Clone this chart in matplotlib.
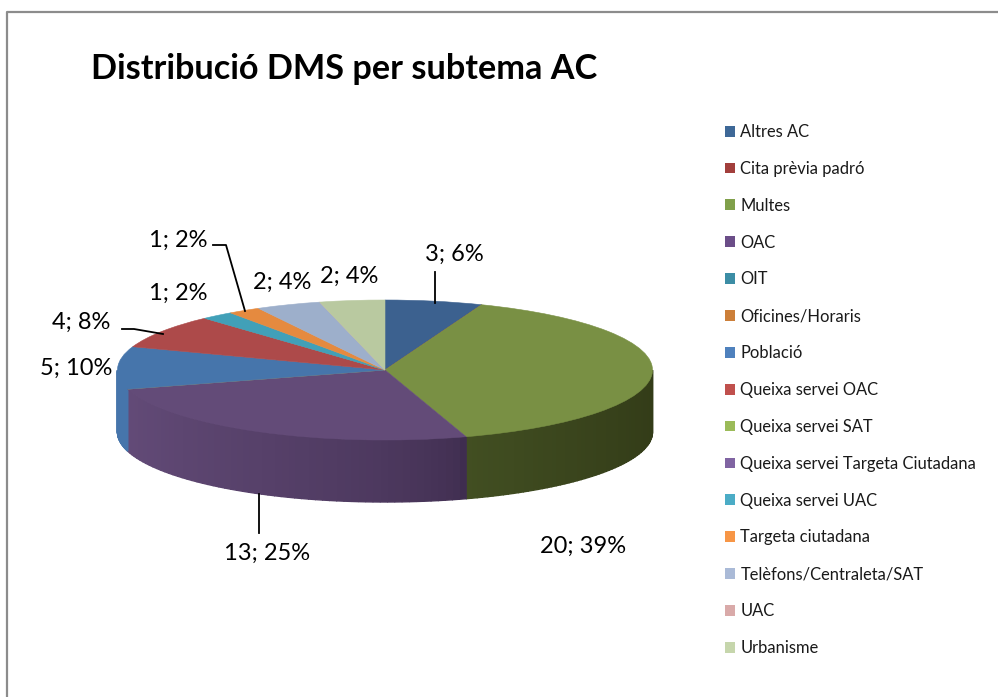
import matplotlib

matplotlib.use("Agg")
import matplotlib.pyplot as plt
import numpy as np
from matplotlib.colors import to_rgb
from matplotlib.patches import Patch

plt.rcParams["font.family"] = ["Lato", "DejaVu Sans"]

TITLE = "Distribució DMS per subtema AC"
CATEGORIES = [
    "Altres AC",
    "Cita prèvia padró",
    "Multes",
    "OAC",
    "OIT",
    "Oficines/Horaris",
    "Població",
    "Queixa servei OAC",
    "Queixa servei SAT",
    "Queixa servei Targeta Ciutadana",
    "Queixa servei UAC",
    "Targeta ciutadana",
    "Telèfons/Centraleta/SAT",
    "UAC",
    "Urbanisme",
]
VALUES = [3, 0, 20, 13, 0, 0, 5, 4, 0, 0, 1, 1, 2, 0, 2]

LEGEND_COLORS = [
    "#3e6897", "#a23f3c", "#80a04a", "#6b4d88", "#3c8da5",
    "#cc7f39", "#4f81bd", "#c0504d", "#9bbb59", "#8064a2",
    "#4bacc6", "#f79646", "#aabad7", "#d9aaa9", "#c6d6ac",
]
TOP_COLORS = [
    "#3c618f", "#a23f3c", "#799044", "#634b78", "#3c8da5",
    "#cc7f39", "#4675ab", "#ad4a4a", "#9bbb59", "#8064a2",
    "#41a0b8", "#e58a3f", "#9dafcb", "#d9aaa9", "#b9c9a0",
]
# side wall colour at the start / end of each visible slice, and shading curve
WALL_SHADES = {
    2: ("#333c18", "#424f22", 1.6),
    3: ("#3f2d4f", "#634b78", 0.6),
    6: ("#4675ab", "#4675ab", 1.0),
}
# label centres and leader lines, in image pixels
LABEL_POS = {
    0: (454, 254),
    2: (583, 546),
    3: (267, 553),
    6: (76, 368),
    7: (81, 322),
    10: (178, 293),
    11: (178, 240),
    12: (282, 282),
    14: (349, 276),
}
LEADERS = [
    [(435, 303), (435, 272)],
    [(259, 494), (259, 533)],
    [(213, 245), (226, 245), (245, 311)],
    [(122, 329), (134, 329), (163, 334)],
]

WIDTH, HEIGHT = 998, 697
CX, CY, RX, RY, DEPTH = 385, 370, 267.5, 70, 62


def wall_segment(ax, t0, t1, color):
    t = np.linspace(t0, t1, 4)
    x = np.sin(t)
    y = np.cos(t)
    drop = DEPTH / RY
    ax.fill(
        np.r_[x, x[::-1]],
        np.r_[y, y[::-1] - drop],
        facecolor=color,
        edgecolor=color,
        linewidth=1.0,
        zorder=0.5,
    )


def main() -> None:
    fig = plt.figure(figsize=(WIDTH / 100, HEIGHT / 100), dpi=100, facecolor="white")

    ax = fig.add_axes([0, 0, 1, 1])
    wedges, _ = ax.pie(
        VALUES,
        colors=TOP_COLORS,
        startangle=90,
        counterclock=False,
    )
    for wedge, color in zip(wedges, TOP_COLORS):
        wedge.set_edgecolor(color)
        wedge.set_linewidth(0.4)
    ax.set_aspect("auto")
    ax.set_xlim(-CX / RX, (WIDTH - CX) / RX)
    ax.set_ylim((CY - HEIGHT) / RY, CY / RY)
    ax.axis("off")

    # side walls, only the front half of the disc shows
    edges = np.r_[0, np.cumsum(VALUES)] / sum(VALUES) * 2 * np.pi
    for idx, (c0, c1, curve) in WALL_SHADES.items():
        t0 = max(edges[idx], np.pi / 2)
        t1 = min(edges[idx + 1], 3 * np.pi / 2)
        steps = np.linspace(t0, t1, 60)
        for a, b in zip(steps[:-1], steps[1:]):
            frac = ((a - t0) / (t1 - t0)) ** curve
            col = np.array(to_rgb(c0)) * (1 - frac) + np.array(to_rgb(c1)) * frac
            wall_segment(ax, a, b, tuple(col))

    # overlay in image pixels for border, labels and leader lines
    over = fig.add_axes([0, 0, 1, 1], facecolor="none")
    over.set_xlim(0, WIDTH)
    over.set_ylim(HEIGHT, 0)
    over.axis("off")

    over.plot([7, 7, WIDTH], [HEIGHT, 12, 12], color="#8c8c8c", linewidth=1.6)

    over.text(91, 69, TITLE, fontsize=24.7, fontweight="bold", color="black", va="center", ha="left")

    total = sum(VALUES)
    for idx, (px, py) in LABEL_POS.items():
        pct = round(VALUES[idx] / total * 100)
        over.text(px, py, f"{VALUES[idx]}; {pct}%", fontsize=17, color="black", ha="center", va="center")

    for line in LEADERS:
        xs, ys = zip(*line)
        over.plot(xs, ys, color="black", linewidth=1.3)

    handles = [Patch(facecolor=c, edgecolor="none") for c in LEGEND_COLORS]
    over.legend(
        handles,
        CATEGORIES,
        loc="upper left",
        bbox_to_anchor=(725 / WIDTH, 1 - 124 / HEIGHT),
        borderaxespad=0,
        borderpad=0,
        frameon=False,
        fontsize=11.9,
        handlelength=0.63,
        handleheight=0.63,
        handletextpad=0.3,
        labelspacing=1.262,
        labelcolor="#1a1a1a",
    )

    fig.savefig("out.png", dpi=100)


if __name__ == "__main__":
    main()
